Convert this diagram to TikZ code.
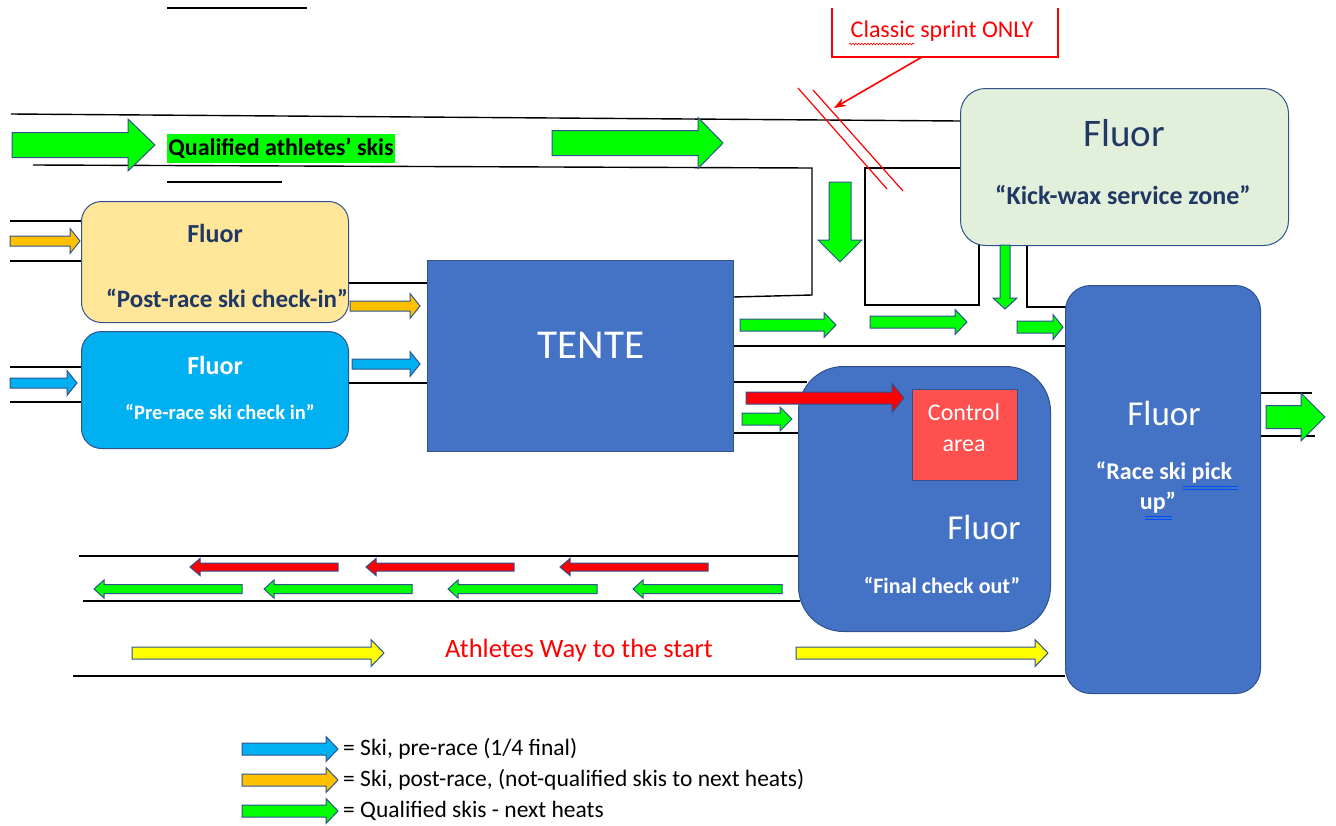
\documentclass[tikz,border=0pt]{standalone}
\usepackage{fontspec}
\setmainfont{Carlito}
\usetikzlibrary{decorations.pathmorphing,arrows.meta}
\definecolor{boxblue}{HTML}{4472C4}
\definecolor{edgeblue}{HTML}{2F528F}
\definecolor{grn}{HTML}{00FF00}
\definecolor{org}{HTML}{FFC000}
\definecolor{cyn}{HTML}{00B0F0}
\definecolor{yel}{HTML}{FFFF00}
\definecolor{kw}{HTML}{E2EFDA}
\definecolor{pst}{HTML}{FFE699}
\definecolor{ctl}{HTML}{FF5050}
\definecolor{navy}{HTML}{1F3864}
\newcommand\fsz[2]{\fontsize{#1}{#2}\selectfont}
% horizontal block arrow: fill, x start, x tip, y centre, body h, head h, head length (negative = points left)
\newcommand\harrow[7]{\draw[blockar,fill=#1] (#2,{#4-#5/2}) -- ({#3-#7},{#4-#5/2}) -- ({#3-#7},{#4-#6/2}) -- (#3,#4) -- ({#3-#7},{#4+#6/2}) -- ({#3-#7},{#4+#5/2}) -- (#2,{#4+#5/2}) -- cycle;}
% vertical block arrow: fill, x centre, y start, y tip, body w, head w, head length
\newcommand\varrow[7]{\draw[blockar,fill=#1] ({#2-#5/2},#3) -- ({#2-#5/2},{#4-#7}) -- ({#2-#6/2},{#4-#7}) -- (#2,#4) -- ({#2+#6/2},{#4-#7}) -- ({#2+#5/2},{#4-#7}) -- ({#2+#5/2},#3) -- cycle;}
\begin{document}
\begin{tikzpicture}[x=1pt,y=-1pt,
  wall/.style={draw=black,line width=1.4pt},
  blockar/.style={draw=edgeblue,line width=1pt,line join=miter},
  zone/.style={draw=edgeblue,line width=1pt,anchor=north west,inner sep=0pt},
  lbl/.style={inner sep=0pt,align=center}]
\useasboundingbox (0,0) rectangle (1336,825);
% ---------- corridor walls ----------
\draw[wall] (167,8) -- (307,8);
\draw[wall] (11,114) -- (960,121);
\draw[wall] (33,165) -- (812,168) -- (812,295) -- (733,297);
\draw[wall] (167,182) -- (282,182);
\draw[wall] (960,168) -- (865,168) -- (865,305) -- (979,305) -- (979,245);
\draw[wall] (1027,245) -- (1027,307) -- (1066,307);
\draw[wall] (733,346) -- (1065,346);
\draw[wall] (733,382) -- (807,382);
\draw[wall] (733,433) -- (800,433);
\draw[wall] (10,221) -- (81,221);
\draw[wall] (10,261) -- (81,261);
\draw[wall] (10,367) -- (81,367);
\draw[wall] (10,402) -- (81,402);
\draw[wall] (348,283) -- (427,283);
\draw[wall] (348,383) -- (427,383);
\draw[wall] (79,556) -- (800,556);
\draw[wall] (83,601) -- (800,601);
\draw[wall] (73,676) -- (1065,676);
\draw[wall] (1260,393) -- (1312,393);
\draw[wall] (1260,436) -- (1315,436);
% ---------- zones ----------
\node[zone,fill=kw,minimum width=328,minimum height=157,rounded corners=25] (kick) at (960,88) {};
\node[zone,fill=pst,minimum width=267,minimum height=121,rounded corners=20] (post) at (81,201) {};
\node[zone,fill=cyn,minimum width=267,minimum height=117,rounded corners=20] (pre) at (81,331) {};
\node[zone,fill=boxblue,minimum width=306,minimum height=191] (tente) at (427,260) {};
\node[zone,fill=boxblue,minimum width=252,minimum height=265,rounded corners=45] (final) at (798,366) {};
\node[zone,fill=ctl,minimum width=105,minimum height=91] (control) at (912,389) {};
\node[zone,fill=boxblue,minimum width=195,minimum height=408,rounded corners=25] (pickup) at (1065,285) {};
% ---------- texts ----------
\node[lbl,text=navy,font=\fsz{39}{41}] (kickT) at (1124,133) {Fluor};
\node[lbl,text=navy,font=\bfseries\fsz{26}{28}] (kickS) at (1123,195) {“Kick-wax service zone”};
\node[lbl,text=navy,font=\bfseries\fsz{26}{28}] (postT) at (215,233) {Fluor};
\node[lbl,text=navy,font=\bfseries\fsz{25}{27}] (postS) at (227,298) {“Post-race ski check-in”};
\node[lbl,text=white,font=\bfseries\fsz{26}{28}] (preT) at (215,365) {Fluor};
\node[lbl,text=white,font=\bfseries\fsz{20.5}{23}] (preS) at (220,412) {“Pre-race ski check in”};
\node[lbl,text=white,font=\fsz{41}{43}] (tenteT) at (591,345) {TENTE};
\node[lbl,text=white,font=\fsz{24}{31}] (controlT) at (964,428) {Control\\area};
\node[lbl,text=white,font=\fsz{35}{37}] (finalT) at (984,527) {Fluor};
\node[lbl,text=white,font=\bfseries\fsz{22}{24}] (finalS) at (942,585) {“Final check out”};
\node[lbl,text=white,font=\fsz{35}{37}] (pickT) at (1164,413) {Fluor};
\node[lbl,text=white,font=\bfseries\fsz{24}{26}] (pickS) at (1164,473) {“Race ski pick};
\node[lbl,text=white,font=\bfseries\fsz{24}{26}] (pickU) at (1158,503) {up”};
\node[lbl,text=red,font=\fsz{26.5}{28}] (athT) at (579,650) {Athletes Way to the start};
\node[lbl,fill=grn,font=\bfseries\fsz{24}{26},minimum height=29,minimum width=228] (qualT) at (281,148) {Qualified athletes’ skis};
% ---------- Classic sprint only ----------
\draw[red,line width=1.6pt] (832,8) -- (832,57) -- (1058,57) -- (1058,8);
\node[lbl,text=red,font=\fsz{24}{26}] (classicT) at (942,31) {Classic sprint ONLY};
\draw[red,line width=0.6pt,decorate,decoration={snake,amplitude=0.9pt,segment length=3pt}] (849,44) -- (914,44);
\draw[red,line width=1.2pt] (798,88) -- (887,189);
\draw[red,line width=1.2pt] (813,90) -- (903,191);
\coordinate (slash) at (834,108);
\draw[red,line width=1.6pt,-{Stealth[length=12pt,width=9pt]}] (922,57) -- (slash);
% grammar underlines
\draw[blue!70!cyan,line width=0.5pt] (1183,486) -- (1238,486) (1183,489) -- (1238,489);
\draw[blue!70!cyan,line width=0.5pt] (1145,516) -- (1172,516) (1145,519) -- (1172,519);
% ---------- block arrows ----------
\harrow{grn}{12}{155}{145}{25}{52}{27}
\harrow{grn}{552}{723}{143}{25}{51}{25}
\varrow{grn}{840}{182}{262}{22}{44}{22}
\varrow{grn}{1005}{245}{309}{10}{24}{11}
\harrow{grn}{740}{836}{325}{12}{25}{12}
\harrow{grn}{870}{967}{322}{12}{25}{12}
\harrow{grn}{1017}{1063}{327}{12}{25}{10}
\harrow{red}{746}{904}{398}{12}{29}{12}
\harrow{grn}{742}{792}{419}{12}{24}{12}
\harrow{org}{10}{80}{241}{10}{25}{10}
\harrow{cyn}{10}{77}{383}{10}{25}{10}
\harrow{org}{350}{420}{306}{10}{25}{10}
\harrow{cyn}{352}{420}{364}{10}{25}{10}
\harrow{grn}{1266}{1325}{417}{23}{48}{24}
\harrow{red}{338}{190}{567}{8}{17}{-10}
\harrow{red}{514}{366}{567}{8}{17}{-10}
\harrow{red}{708}{560}{567}{8}{17}{-10}
\harrow{grn}{242}{94}{589}{9}{18}{-10}
\harrow{grn}{412}{264}{589}{9}{18}{-10}
\harrow{grn}{597}{448}{589}{9}{18}{-10}
\harrow{grn}{782}{633}{589}{9}{18}{-10}
\harrow{yel}{132}{384}{653}{12}{27}{13}
\harrow{yel}{796}{1048}{653}{12}{27}{13}
% ---------- legend ----------
\harrow{cyn}{242}{338}{749}{12}{25}{12}
\harrow{org}{242}{338}{780}{12}{25}{12}
\harrow{grn}{242}{338}{811}{12}{25}{12}
\node[lbl,anchor=west,font=\fsz{23.5}{25}] (legA) at (343,749) {= Ski, pre-race (1/4 final)};
\node[lbl,anchor=west,font=\fsz{23.5}{25}] (legB) at (343,780) {= Ski, post-race, (not-qualified skis to next heats)};
\node[lbl,anchor=west,font=\fsz{23.5}{25}] (legC) at (343,811) {= Qualified skis - next heats};
\end{tikzpicture}
\end{document}
